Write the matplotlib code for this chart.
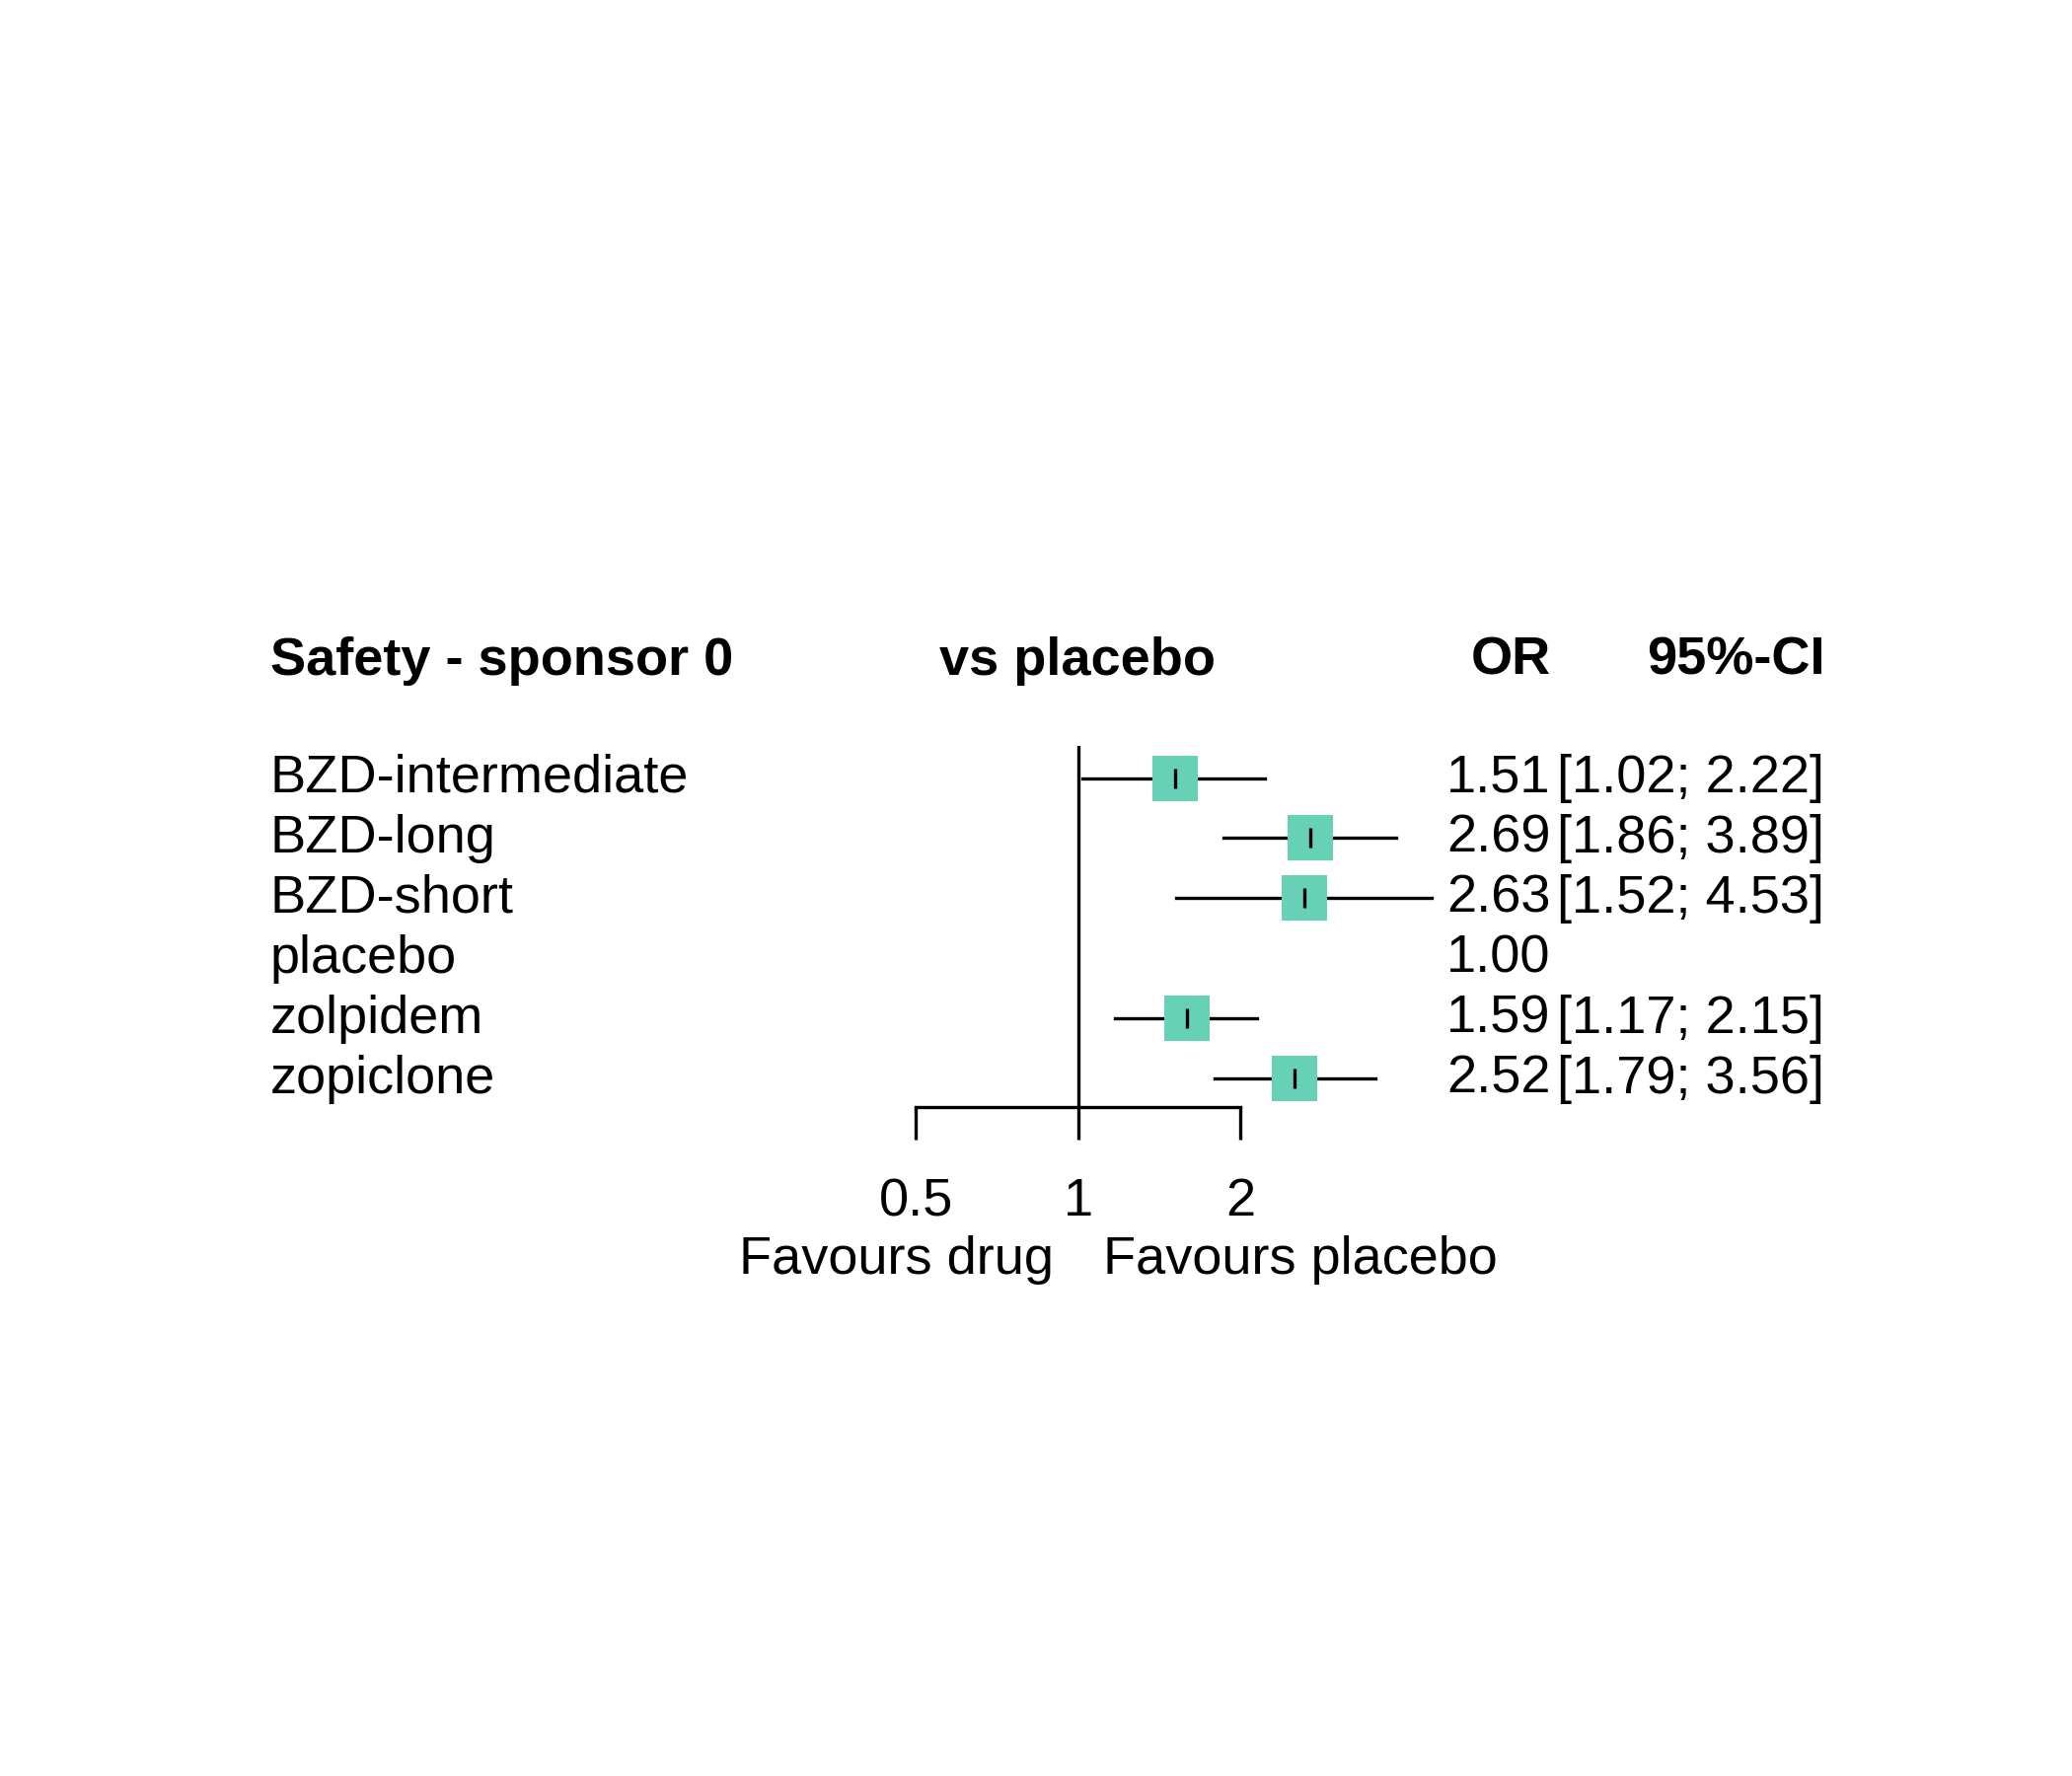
import matplotlib
matplotlib.use("Agg")
import matplotlib.pyplot as plt
import numpy as np

plt.rcParams['font.family'] = ['Liberation Sans', 'DejaVu Sans']

treatments = ["BZD-intermediate", "BZD-long", "BZD-short", "placebo", "zolpidem", "zopiclone"]
odds = [1.51, 2.69, 2.63, 1.00, 1.59, 2.52]
lower = [1.02, 1.86, 1.52, np.nan, 1.17, 1.79]
upper = [2.22, 3.89, 4.53, np.nan, 2.15, 3.56]

W, H = 1550.0, 1328.0
fig = plt.figure(figsize=(7, 6), dpi=300)

# forest axes, placed in reference pixel coordinates
ax = fig.add_axes([685 / W, 1 - 828 / H, 243 / W, 270 / H])
ax.set_xscale("log")
ax.set_xlim(0.5, 2)
ax.set_ylim(6.49, 0.467)
for s in ["top", "left", "right"]:
    ax.spines[s].set_visible(False)
ax.spines["bottom"].set_linewidth(0.8)
ax.set_xticks([0.5, 1, 2])
ax.set_xticklabels(["0.5", "1", "2"], fontsize=13)
ax.minorticks_off()
ax.tick_params(axis="x", length=8, width=0.8, pad=9)
ax.set_yticks([])
ax.axvline(1, color="black", lw=0.8)

rows = np.arange(1, len(treatments) + 1)
for r, o, lo, hi in zip(rows, odds, lower, upper):
    if np.isnan(lo):
        continue
    ax.plot([lo, hi], [r, r], color="black", lw=0.8, clip_on=False, zorder=2)
    ax.plot(o, r, marker="s", ms=11, color="#66D1B5", mec="none", clip_on=False, zorder=3)
    ax.plot(o, r, marker="|", ms=5, color="black", mew=0.8, clip_on=False, zorder=4)

def ft(x, y, s, **kw):
    fig.text(x / W, 1 - y / H, s, fontsize=13, va="center", **kw)

ft(202, 494, "Safety - sponsor 0", weight="bold")
ft(806, 494, "vs placebo", weight="bold", ha="center")
ft(1160, 494, "OR", weight="bold", ha="right")
ft(1365, 494, "95%-CI", weight="bold", ha="right")
for r, name, o, lo, hi in zip(rows, treatments, odds, lower, upper):
    y = 582 + (r - 1) * 45
    ft(202, y, name)
    ft(1160, y, f"{o:.2f}", ha="right")
    if not np.isnan(lo):
        ft(1365, y, f"[{lo:.2f}; {hi:.2f}]", ha="right")

ft(788, 942, "Favours drug", ha="right")
ft(825, 942, "Favours placebo", ha="left")

fig.savefig("out.png", dpi=300)
